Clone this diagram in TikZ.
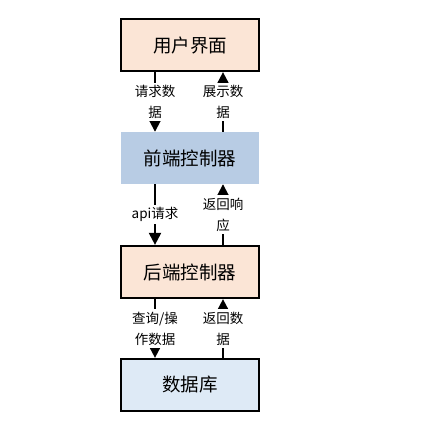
\documentclass[tikz,border=0pt]{standalone}
\usepackage{fontspec}
\setmainfont{Noto Sans CJK SC}
\usetikzlibrary{arrows.meta}
\definecolor{peach}{RGB}{251,229,214}
\definecolor{steel}{RGB}{184,204,228}
\definecolor{pale}{RGB}{222,234,246}
\tikzset{
  layer/.style={minimum width=138pt,minimum height=52pt,inner sep=0pt,font=\fontsize{18.5}{20}\selectfont},
  framed/.style={layer,draw,line width=2.2pt},
  flow/.style={line width=2pt,-{Triangle[width=12pt,length=12pt]}},
  note/.style={fill=white,align=center,inner sep=2.5pt,font=\fontsize{13.5}{21}\selectfont}
}
\begin{document}
\begin{tikzpicture}[x=1pt,y=-1pt]
\useasboundingbox (0,0) rectangle (437,423);
\node[framed,fill=peach] (ui) at (190,45){用户界面};
\node[layer,fill=steel] (fc) at (190,158){前端控制器};
\node[framed,fill=peach] (bc) at (190,272){后端控制器};
\node[framed,fill=pale] (db) at (190,385){数据库};
\coordinate (lx) at (155,0);
\coordinate (rx) at (223,0);

\path[draw,flow] (ui.south -| lx) -- node[note]{请求数\\据} (fc.north -| lx);
\path[draw,flow] (fc.north -| rx) -- node[note]{展示数\\据} (ui.south -| rx);
\path[draw,flow] (fc.south -| lx) -- node[note]{api请求} (bc.north -| lx);
\path[draw,flow] (bc.north -| rx) -- node[note]{返回响\\应} (fc.south -| rx);
\path[draw,flow] (bc.south -| lx) -- node[note]{查询/操\\作数据} (db.north -| lx);
\path[draw,flow] (db.north -| rx) -- node[note]{返回数\\据} (bc.south -| rx);
\end{tikzpicture}
\end{document}
